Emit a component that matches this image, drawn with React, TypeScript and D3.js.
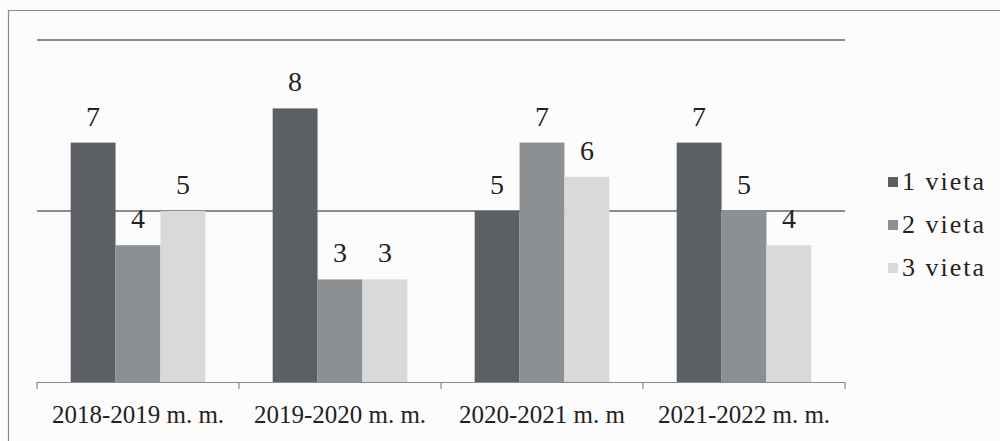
import { useEffect, useRef } from 'react';
import * as d3 from 'd3';

const years = ['2018-2019 m. m.', '2019-2020 m. m.', '2020-2021 m. m', '2021-2022 m. m.'];
const seriesNames = ['1 vieta', '2 vieta', '3 vieta'];
const place1 = [7, 8, 5, 7];
const place2 = [4, 3, 7, 5];
const place3 = [5, 3, 6, 4];
const gridValues = [5, 10];
const colors = ['#5c6064', '#8d9093', '#d7d9db'];

export default function App() {
  const svgRef = useRef<SVGSVGElement>(null);

  useEffect(() => {
    if (!svgRef.current) return;
    const width = 1000;
    const height = 441;
    const svg = d3.select(svgRef.current);
    svg.selectAll('*').remove();
    svg.attr('viewBox', `0 0 ${width} ${height}`);

    const font = '"Liberation Serif", "Times New Roman", serif';

    svg.append('rect').attr('width', width).attr('height', height).style('fill', '#fcfcfc');

    // outer frame
    svg.append('path')
      .attr('d', `M8.5,${height} L8.5,10.5 L${width},10.5`)
      .style('fill', 'none')
      .style('stroke', '#8a8a8a')
      .style('stroke-width', 1.2);

    const x0 = d3.scaleBand<string>().domain(years).range([37, 845]).paddingInner(0).paddingOuter(0);
    const x1 = d3.scaleBand<string>().domain(seriesNames).range([0, x0.bandwidth()]).paddingInner(0).paddingOuter(0.75);
    const y = d3.scaleLinear().domain([0, 10]).range([382, 40]);

    // gridlines
    svg.append('g')
      .selectAll('line')
      .data(gridValues)
      .enter()
      .append('line')
      .attr('x1', 37).attr('x2', 845)
      .attr('y1', d => y(d)).attr('y2', d => y(d))
      .style('stroke', '#666')
      .style('stroke-width', 1.3);

    const series = [place1, place2, place3];

    const groups = svg.append('g')
      .selectAll('g')
      .data(years)
      .enter()
      .append('g')
      .attr('transform', d => `translate(${x0(d)},0)`);

    groups.selectAll('rect')
      .data((_, i) => series.map((s, k) => ({ name: seriesNames[k], value: s[i], k })))
      .enter()
      .append('rect')
      .attr('x', d => x1(d.name)!)
      .attr('width', x1.bandwidth())
      .attr('y', d => y(d.value))
      .attr('height', d => y(0) - y(d.value))
      .style('fill', d => colors[d.k]);

    groups.selectAll('text')
      .data((_, i) => series.map((s, k) => ({ name: seriesNames[k], value: s[i], k })))
      .enter()
      .append('text')
      .attr('x', d => x1(d.name)! + x1.bandwidth() / 2)
      .attr('y', d => y(d.value) - 17)
      .attr('text-anchor', 'middle')
      .text(d => d.value)
      .style('font-family', font)
      .style('font-size', '28px')
      .style('fill', '#222');

    // x axis
    const axis = svg.append('g');
    axis.append('line')
      .attr('x1', 37).attr('x2', 845)
      .attr('y1', 382.5).attr('y2', 382.5)
      .style('stroke', '#8a8a8a')
      .style('stroke-width', 1.2);
    const tickPos = years.map(d => x0(d)!).concat([845]);
    axis.selectAll('line.tick')
      .data(tickPos)
      .enter()
      .append('line')
      .attr('class', 'tick')
      .attr('x1', d => d).attr('x2', d => d)
      .attr('y1', 382).attr('y2', 389)
      .style('stroke', '#8a8a8a')
      .style('stroke-width', 1.2);
    axis.selectAll('text')
      .data(years)
      .enter()
      .append('text')
      .attr('x', d => x0(d)! + x0.bandwidth() / 2)
      .attr('y', 423)
      .attr('text-anchor', 'middle')
      .text(d => d)
      .style('font-family', font)
      .style('font-size', '25px')
      .style('fill', '#222');

    // legend
    const legend = svg.append('g')
      .selectAll('g')
      .data(seriesNames)
      .enter()
      .append('g')
      .attr('transform', (_, i) => `translate(888,${182 + i * 43})`);
    legend.append('rect')
      .attr('x', 0).attr('y', -5)
      .attr('width', 10).attr('height', 10)
      .style('fill', (_, i) => colors[i]);
    legend.append('text')
      .attr('x', 14).attr('y', 8)
      .text(d => d)
      .style('font-family', font)
      .style('font-size', '26px')
      .style('letter-spacing', '2px')
      .style('fill', '#222');
  }, []);

  return (
    <svg ref={svgRef} width={1000} height={441} style={{ position: 'absolute', left: 0, top: 0, display: 'block' }} />
  );
}
